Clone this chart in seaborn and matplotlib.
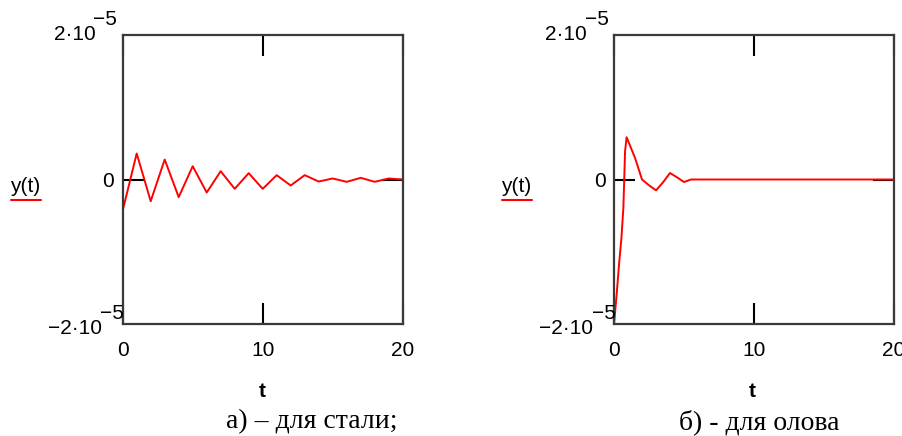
import numpy as np
import pandas as pd
import seaborn as sns
from matplotlib import pyplot as plt

# а) сталь: отсчеты по целым t
t_steel = list(range(21))
y_steel = [-4.3e-6, 3.6e-6, -3.0e-6, 2.76e-6, -2.44e-6, 1.84e-6, -1.8e-6, 1.15e-6,
           -1.29e-6, 0.88e-6, -1.29e-6, 0.6e-6, -0.83e-6, 0.6e-6, -0.28e-6, 0.14e-6,
           -0.32e-6, 0.23e-6, -0.32e-6, 0.14e-6, 0.0]

# б) олово
t_tin = [0, 0.19, 0.36, 0.53, 0.67, 0.79, 0.9, 1.5, 2.0, 2.5, 3.0, 3.5, 4.0, 4.5,
         5.0, 5.5, 6, 8, 10, 12, 14, 16, 18, 20]
y_tin = [-2.0e-5, -15.9e-6, -11.75e-6, -8.1e-6, -3.9e-6, 3.9e-6, 5.85e-6, 3.0e-6,
         0.0, -0.8e-6, -1.5e-6, -0.4e-6, 0.9e-6, 0.3e-6, -0.35e-6, 0.0, 0.0, 0.0,
         0.0, 0.0, 0.0, 0.0, 0.0, 0.0]

x_ticks = [0, 10, 20]
captions = ['а) – для стали;', 'б) - для олова']

sns.set_style('white')
plt.rcParams['font.family'] = ['Liberation Sans', 'DejaVu Sans']
plt.rcParams['text.color'] = 'black'

fig = plt.figure(figsize=(9.03, 4.36), dpi=100)
W, H = 903, 436
spine_c = '#3a3a3a'
fs = 15

panels = [(t_steel, y_steel, 122.7), (t_tin, y_tin, 614)]
for i, (tt, yy, left) in enumerate(panels):
    ax = fig.add_axes([left / W, 1 - 324 / H, 280 / W, 289 / H])
    df = pd.DataFrame({'t': tt, 'y': yy})
    sns.lineplot(data=df, x='t', y='y', ax=ax, color='red', linewidth=1.4)
    ax.set_xlim(0, 20)
    ax.set_ylim(-2e-5, 2e-5)
    ax.set_xticks(x_ticks)
    ax.set_xticklabels([str(v) for v in x_ticks], fontsize=fs)
    ax.set_yticks([0])
    ax.set_yticklabels(['0'], fontsize=fs)
    ax.tick_params(axis='both', direction='in', length=15, width=1.5, color='black',
                   labelcolor='black', top=True, right=True, bottom=True, left=True)
    ax.tick_params(axis='x', pad=12)
    ax.tick_params(axis='y', pad=6)
    ax.set_xlabel('')
    ax.set_ylabel('')
    for s in ax.spines.values():
        s.set_color(spine_c)
        s.set_linewidth(1.6)

    # подписи пределов оси y в стиле Mathcad
    tr = ax.transAxes
    ax.text(-0.098, 1.0, '2·10', transform=tr, ha='right', va='center', fontsize=fs)
    ax.text(-0.105, 1.052, '−5', transform=tr, ha='left', va='center', fontsize=fs)
    ax.text(-0.075, -0.017, '−2·10', transform=tr, ha='right', va='center', fontsize=fs)
    ax.text(-0.08, 0.035, '−5', transform=tr, ha='left', va='center', fontsize=fs)

    # метка оси y с легендой
    x0 = (10 if i == 0 else 501) / W
    fig.text(x0, 1 - 186 / H, 'y(t)', ha='left', va='center', fontsize=fs)
    fig.add_artist(plt.Line2D([x0 + 1 / W, x0 + 31 / W], [1 - 200 / H, 1 - 200 / H],
                              color='red', linewidth=1.5))

    # метка оси x
    xc = (262 if i == 0 else 752) / W
    fig.text(xc, 1 - 391 / H, 't', ha='center', va='center', fontsize=fs,
             fontweight='bold')

    cc = (312 if i == 0 else 759) / W
    fig.text(cc, 1 - 422 / H, captions[i], ha='center', va='center', fontsize=20,
             family='Liberation Serif')

fig.savefig('out.png', dpi=100)
